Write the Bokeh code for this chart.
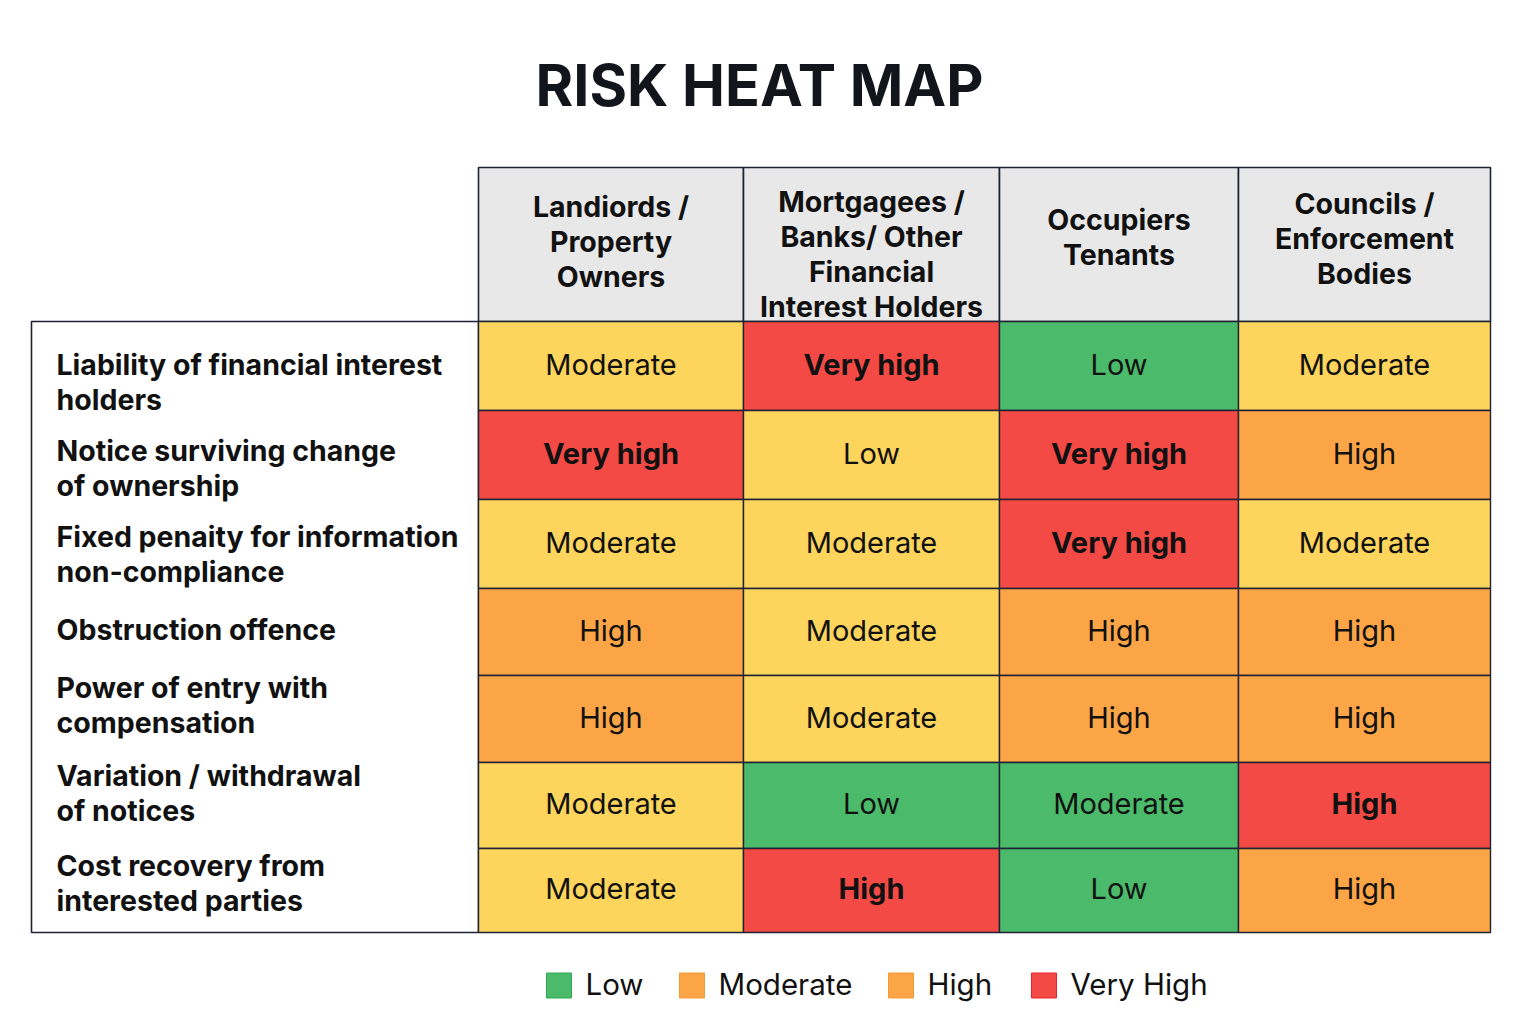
from bokeh.plotting import figure
from bokeh.models import Range1d, ColumnDataSource
from bokeh.embed import file_html
from bokeh.resources import INLINE
from bokeh.core.properties import value

# ---------------- data ----------------
title = "RISK HEAT MAP"
column_headers = [
    ["Landiords /", "Property", "Owners"],
    ["Mortgagees /", "Banks/ Other", "Financial", "Interest Holders"],
    ["Occupiers", "Tenants"],
    ["Councils /", "Enforcement", "Bodies"],
]
row_labels = [
    ["Liability of financial interest", "holders"],
    ["Notice surviving change", "of ownership"],
    ["Fixed penaity for information", "non-compliance"],
    ["Obstruction offence"],
    ["Power of entry with", "compensation"],
    ["Variation / withdrawal", "of notices"],
    ["Cost recovery from", "interested parties"],
]
cell_text = [
    ["Moderate", "Very high", "Low", "Moderate"],
    ["Very high", "Low", "Very high", "High"],
    ["Moderate", "Moderate", "Very high", "Moderate"],
    ["High", "Moderate", "High", "High"],
    ["High", "Moderate", "High", "High"],
    ["Moderate", "Low", "Moderate", "High"],
    ["Moderate", "High", "Low", "High"],
]
cell_level = [
    ["Moderate", "Very High", "Low", "Moderate"],
    ["Very High", "Moderate", "Very High", "High"],
    ["Moderate", "Moderate", "Very High", "Moderate"],
    ["High", "Moderate", "High", "High"],
    ["High", "Moderate", "High", "High"],
    ["Moderate", "Low", "Low", "Very High"],
    ["Moderate", "Very High", "Low", "High"],
]
legend_labels = ["Low", "Moderate", "High", "Very High"]
legend_levels = ["Low", "High", "High", "Very High"]

# ---------------- styles / layout ----------------
palette = {"Low": "#4BBA6A", "Moderate": "#FDD55C", "High": "#FCA546", "Very High": "#F44A45"}
legend_line = {"Low": "#2FA94F", "High": "#F39A35", "Very High": "#E8262A"}
BORDER = "#1E2235"
HEADER_BG = "#E8E8E8"
TEXT = "#111111"
FONT = "Inter"

col_edges = [478, 743, 999, 1238, 1490]
header_top, header_bottom = 167, 321
header_dy = [-3, 9, -8, -6]
row_edges = [321, 410, 499, 588, 675, 762, 848, 932]
label_left, label_x = 31, 56
label_first_y = [364, 450, 536, 629, 687, 775, 865]
line_h = 35
TDY = -2  # vertical text nudge

W, H = 1520, 1008
p = figure(width=W, height=H, output_backend="svg", toolbar_location=None,
           x_range=Range1d(0, W), y_range=Range1d(H, 0),
           x_axis_location=None, y_axis_location=None, min_border=0)
p.grid.visible = False
p.outline_line_color = None
p.background_fill_color = "white"

# title
p.text(x=[759], y=[84], text=[title], text_align="center", text_baseline="middle",
       text_font=value(FONT), text_font_size="57.5px", text_font_style="bold", text_color="#13151C")

# header cells
p.quad(left=col_edges[:-1], right=col_edges[1:], top=[header_top] * 4, bottom=[header_bottom] * 4,
       fill_color=HEADER_BG, line_color=BORDER, line_width=1.6)
hx, hy, ht = [], [], []
for j, lines in enumerate(column_headers):
    cx = (col_edges[j] + col_edges[j + 1]) / 2
    cy = (header_top + header_bottom) / 2 + header_dy[j]
    n = len(lines)
    for k, t in enumerate(lines):
        hx.append(cx)
        hy.append(cy + (k - (n - 1) / 2) * line_h)
        ht.append(t)
p.text(x=hx, y=hy, text=ht, text_align="center", text_baseline="middle",
       text_font=value(FONT), text_font_size="28.5px", text_font_style="bold", text_color=TEXT)

# row label box
p.quad(left=[label_left], right=[col_edges[0]], top=[row_edges[0]], bottom=[row_edges[-1]],
       fill_color="white", line_color=BORDER, line_width=1.6)
lx, ly, lt = [], [], []
for i, lines in enumerate(row_labels):
    for k, t in enumerate(lines):
        lx.append(label_x)
        ly.append(label_first_y[i] + k * line_h)
        lt.append(t)
p.text(x=lx, y=ly, text=lt, text_align="left", text_baseline="middle",
       text_font=value(FONT), text_font_size="28.5px", text_font_style="bold", text_color=TEXT)

# heat cells
L, R, T, B, C, X, Y, S, FS = [], [], [], [], [], [], [], [], []
for i in range(len(row_labels)):
    for j in range(len(column_headers)):
        L.append(col_edges[j]); R.append(col_edges[j + 1])
        T.append(row_edges[i]); B.append(row_edges[i + 1])
        lev = cell_level[i][j]
        C.append(palette[lev])
        X.append((col_edges[j] + col_edges[j + 1]) / 2)
        Y.append((row_edges[i] + row_edges[i + 1]) / 2 + TDY)
        S.append(cell_text[i][j])
        FS.append("bold" if lev == "Very High" else "normal")
src = ColumnDataSource(dict(left=L, right=R, top=T, bottom=B, color=C, x=X, y=Y, text=S, style=FS))
p.quad(left="left", right="right", top="top", bottom="bottom", fill_color="color",
       line_color=BORDER, line_width=1.4, source=src)
p.text(x="x", y="y", text="text", text_align="center", text_baseline="middle",
       text_font=value(FONT), text_font_size="29px", text_font_style="style", text_color=TEXT, source=src)

# legend
leg_x = [546, 679, 888, 1031]
leg_y = 985
sq = 25
p.quad(left=leg_x, right=[x + sq for x in leg_x], top=[leg_y - sq / 2] * 4, bottom=[leg_y + sq / 2] * 4,
       fill_color=[palette[l] for l in legend_levels], line_color=[legend_line[l] for l in legend_levels],
       line_width=1)
p.text(x=[x + 39 for x in leg_x], y=[leg_y + TDY] * 4, text=legend_labels, text_align="left",
       text_baseline="middle", text_font=value(FONT), text_font_size="29.5px", text_color=TEXT)

open("out.html", "w").write(file_html(p, INLINE))
